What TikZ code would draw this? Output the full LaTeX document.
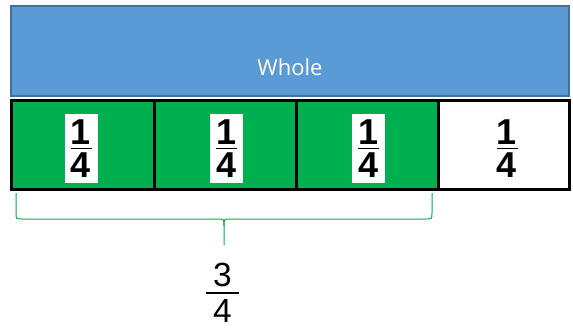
\documentclass[tikz,border=0pt]{standalone}
\usepackage{fontspec}
\setmainfont{Liberation Sans}
\newfontfamily\wholefont{Open Sans}
\usepackage{xcolor}
\usepackage{tikz}
\usetikzlibrary{positioning}
\definecolor{wholeblue}{HTML}{5B9BD5}
\definecolor{wholeedge}{HTML}{41719C}
\definecolor{partgreen}{HTML}{00AF50}
\newcommand{\fracpart}[4]{\vbox{\hbox to #3{\hss#1\hss}\kern#4\hrule height1.5pt\kern#4\hbox to #3{\hss#2\hss}}}
\tikzstyle{wholebox}=[draw=wholeedge, line width=2pt, shape=rectangle, fill=wholeblue, minimum width=558pt, minimum height=90pt, inner sep=0pt]
\tikzstyle{partcell}=[draw=black, line width=3pt, shape=rectangle, fill=partgreen, minimum height=89pt, inner sep=0pt]
\tikzstyle{fracbox}=[shape=rectangle, fill=white, inner xsep=6pt, inner ysep=6pt, font=\bfseries\fontsize{36}{36}\selectfont]

\begin{document}
\begin{tikzpicture}[x=1pt, y=-1pt]
\useasboundingbox (0,0) rectangle (573,327);
\node [wholebox] (whole) at (290,51) {};
\node [text=white, font=\wholefont\fontsize{22}{22}\selectfont, anchor=base] (wholetext) at (290,75) {Whole};

\node [partcell, minimum width=143pt] (c1) at (82.5,144.5) {};
\node [partcell, minimum width=142pt] (c2) at (225,144.5) {};
\node [partcell, minimum width=142pt] (c3) at (367,144.5) {};
\node [partcell, minimum width=131pt, fill=white] (c4) at (503.5,144.5) {};

\node [fracbox] (f1) at (81,148.5) {\fracpart{1}{4}{21pt}{3pt}};
\node [fracbox] (f2) at (226.5,148.5) {\fracpart{1}{4}{21pt}{3pt}};
\node [fracbox] (f3) at (368.5,148.5) {\fracpart{1}{4}{21pt}{3pt}};
\node [fracbox] (f4) at (507,148.5) {\fracpart{1}{4}{21pt}{3pt}};

\draw[partgreen, line width=1pt] (16,193) -- (16,213) .. controls (16,219) .. (22,219) -- (218,219) .. controls (224,219) .. (224,226) -- (224,245);
\draw[partgreen, line width=1pt] (432,193) -- (432,213) .. controls (432,219) .. (426,219) -- (230,219) .. controls (224,219) .. (224,226);

\node [inner sep=0pt, font=\fontsize{33.5}{33.5}\selectfont] (part) at (222.5,292.5) {\fracpart{3}{4}{33pt}{5.5pt}};
\end{tikzpicture}
\end{document}
